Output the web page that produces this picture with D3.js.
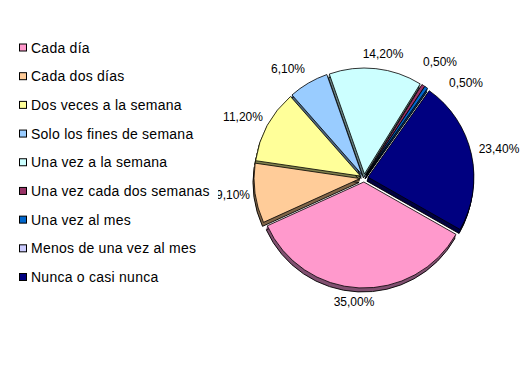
<!DOCTYPE html>
<html>
<head>
<meta charset="utf-8">
<script src="https://cdn.jsdelivr.net/npm/d3@7"></script>
<style>
  html, body { margin: 0; padding: 0; background: #fff; }
  svg { display: block; }
  text { font-family: "Liberation Sans", Arial, sans-serif; }
</style>
</head>
<body>
<svg id="chart" width="530" height="365"></svg>
<script>
const categories = [
  "Cada día",
  "Cada dos días",
  "Dos veces a la semana",
  "Solo los fines de semana",
  "Una vez a la semana",
  "Una vez cada dos semanas",
  "Una vez al mes",
  "Menos de una vez al mes",
  "Nunca o casi nunca"
];
const values = [35.0, 9.1, 11.2, 6.1, 14.2, 0.5, 0.5, 0.0, 23.4];
const labels = ["35,00%", "9,10%", "11,20%", "6,10%", "14,20%", "0,50%", "0,50%", "", "23,40%"];
const colors = ["#FF99CC", "#FFCC99", "#FFFF99", "#99CCFF", "#CCFFFF", "#993366", "#0066CC", "#CCCCFF", "#000080"];
const sideColors = ["#805070", "#806548", "#80804C", "#4C6680", "#668080", "#4C1A33", "#003366", "#666680", "#000040"];
// label anchor positions
const labelPos = [[354, 302], [233, 195], [243, 117], [288, 69], [383, 54], [440, 62], [466, 83], null, [499, 149]];

const svg = d3.select("#chart");
const cx = 364, cy = 178, R = 106, explode = 4;
const depthX = -1, depthY = 4;

const pie = d3.pie().sort(null).value(d => d)
  .startAngle(119.6 * Math.PI / 180)
  .endAngle(119.6 * Math.PI / 180 + 2 * Math.PI);
const arcs = pie(values);
const arc = d3.arc().innerRadius(0).outerRadius(R);

function off(d) {
  const m = (d.startAngle + d.endAngle) / 2;
  return [cx + Math.sin(m) * explode, cy - Math.cos(m) * explode];
}

const g = svg.append("g");
const drawn = arcs.map((d, i) => ({ d, i })).filter(o => o.d.value > 0);

// depth (sides)
const steps = 4;
for (let k = 1; k <= steps; k++) {
  drawn.forEach(({ d, i }) => {
    const [ox, oy] = off(d);
    g.append("path")
      .attr("d", arc(d))
      .attr("transform", `translate(${ox + depthX * k / steps},${oy + depthY * k / steps})`)
      .attr("fill", sideColors[i])
      .attr("stroke", k === steps ? "#000" : sideColors[i])
      .attr("stroke-width", k === steps ? 0.9 : 0.6);
  });
}
// top faces
drawn.forEach(({ d, i }) => {
  const [ox, oy] = off(d);
  g.append("path")
    .attr("d", arc(d))
    .attr("transform", `translate(${ox},${oy})`)
    .attr("fill", colors[i])
    .attr("stroke", "#000")
    .attr("stroke-width", 0.8);
});

// data labels
labels.forEach((t, i) => {
  if (!t || !labelPos[i]) return;
  svg.append("text")
    .attr("x", labelPos[i][0]).attr("y", labelPos[i][1])
    .attr("text-anchor", "middle")
    .attr("dominant-baseline", "central")
    .attr("font-size", "12px")
    .attr("fill", "#000")
    .text(t);
});

// legend (white background, drawn last)
const legend = svg.append("g");
legend.append("rect").attr("x", 12).attr("y", 34).attr("width", 206).attr("height", 258).attr("fill", "#fff");
const ly = d3.scalePoint().domain(categories).range([47.5, 277]);
categories.forEach((c, i) => {
  const y = ly(c);
  legend.append("rect")
    .attr("x", 19.5).attr("y", y - 3.5)
    .attr("width", 7).attr("height", 7)
    .attr("fill", colors[i]).attr("stroke", "#000").attr("stroke-width", 1);
  legend.append("text")
    .attr("x", 31).attr("y", y)
    .attr("dominant-baseline", "central")
    .attr("font-size", "14px")
    .attr("letter-spacing", "0.25px")
    .attr("fill", "#000")
    .text(c);
});
</script>
</body>
</html>
